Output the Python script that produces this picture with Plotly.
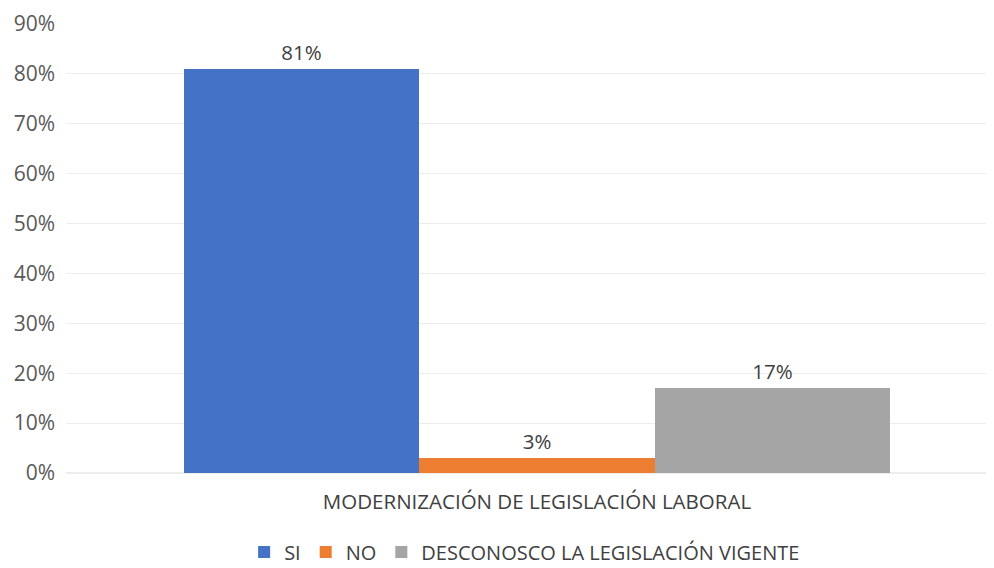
import plotly.graph_objects as go

category = ["MODERNIZACIÓN DE LEGISLACIÓN LABORAL"]
series_names = ["SI", "NO", "DESCONOSCO LA LEGISLACIÓN VIGENTE"]
series_values = [81, 3, 17]
series_colors = ["#4472C4", "#ED7D31", "#A5A5A5"]
y_ticks = [0, 10, 20, 30, 40, 50, 60, 70, 80, 90]

fig = go.Figure()
for name, val, col in zip(series_names, series_values, series_colors):
    fig.add_trace(go.Bar(
        x=category, y=[val], name=name,
        marker=dict(color=col, line=dict(width=0)),
        text=[f"{val}%"], textposition="outside",
        textfont=dict(size=20.5, color="#404040", family="Open Sans"),
        cliponaxis=False,
    ))

fig.update_layout(
    width=994, height=568,
    margin=dict(l=58, r=0, t=16, b=103, autoexpand=False),
    paper_bgcolor="white", plot_bgcolor="white",
    barmode="group", bargap=0, bargroupgap=0,
    font=dict(family="Open Sans", size=20.5, color="#404040"),
    showlegend=True,
    legend=dict(orientation="h", x=0.49, xanchor="center", y=-0.176, yanchor="middle",
                font=dict(size=20, color="#404040"), itemwidth=30, traceorder="normal"),
    xaxis=dict(range=[-0.6671, 0.6587], showgrid=False, showline=False, zeroline=False,
               ticks="", ticklabelstandoff=14,
               tickfont=dict(size=20.5, color="#404040")),
    yaxis=dict(range=[0, 90], tickvals=y_ticks, ticktext=[f"{v}%" for v in y_ticks],
               showgrid=True, gridcolor="#EDEDED", gridwidth=1,
               zeroline=True, zerolinecolor="#EDEDED", showline=False,
               tickfont=dict(size=21, color="#595959"), ticklabelstandoff=10),
)

fig.write_html("out.html")
